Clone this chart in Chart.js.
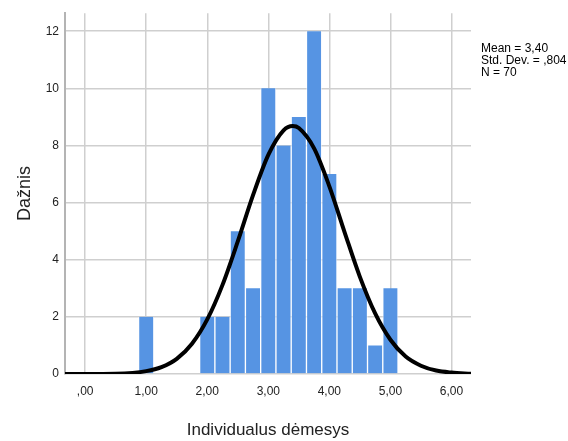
<!DOCTYPE html>
<html>
<head>
<meta charset="utf-8">
<script src="https://cdn.jsdelivr.net/npm/chart.js@4/dist/chart.umd.min.js"></script>
<style>
  html, body { margin: 0; padding: 0; background: #fff; }
  #wrap { position: relative; width: 568px; height: 441px; }
  #stats {
    position: absolute; left: 481px; top: 42px;
    font-family: "Liberation Sans", Arial, sans-serif; font-size: 12px; line-height: 12px;
    color: #000; white-space: nowrap;
  }
</style>
</head>
<body>
<div id="wrap">
  <canvas id="chart" width="568" height="441"></canvas>
  <div id="stats">Mean = 3,40<br>Std. Dev. = ,804<br>N = 70</div>
</div>
<script>
// histogram bins (bin centres, width 0.25) and counts
const binCentres = [1.0, 2.0, 2.25, 2.5, 2.75, 3.0, 3.25, 3.5, 3.75, 4.0, 4.25, 4.5, 4.75, 5.0];
const binCounts = [2, 2, 2, 5, 3, 10, 8, 9, 12, 7, 3, 3, 1, 3];

// fitted normal curve
const curveX = [-0.33, 0, 0.5, 1.0, 1.25, 1.5, 1.75, 2.0, 2.25, 2.5, 2.75, 3.0, 3.25, 3.4, 3.5, 3.75, 4.0, 4.25, 4.5, 4.75, 5.0, 5.25, 5.5, 5.75, 6.0, 6.32];
const curveY = [0, 0, 0.01, 0.1, 0.24, 0.53, 1.06, 1.91, 3.12, 4.64, 6.26, 7.67, 8.53, 8.68, 8.61, 7.9, 6.57, 4.96, 3.4, 2.12, 1.2, 0.61, 0.29, 0.12, 0.05, 0.01];

const xTicks = [0, 1, 2, 3, 4, 5, 6];
const xTickLabels = [',00', '1,00', '2,00', '3,00', '4,00', '5,00', '6,00'];
const yTicks = [0, 2, 4, 6, 8, 10, 12];

const font = 'Liberation Sans, Arial, sans-serif';

new Chart(document.getElementById('chart').getContext('2d'), {
  type: 'bar',
  data: {
    datasets: [{
      type: 'line',
      label: 'Normal',
      data: curveX.map((x, i) => ({ x: x, y: curveY[i] })),
      borderColor: '#000',
      borderWidth: 4,
      pointRadius: 0,
      cubicInterpolationMode: 'monotone',
      order: 0
    }, {
      label: 'Dažnis',
      data: binCentres.map((x, i) => ({ x: x, y: binCounts[i] })),
      backgroundColor: '#5694e3',
      borderColor: 'rgba(255,255,255,0.55)',
      borderWidth: { left: 1, right: 1, top: 0, bottom: 0 },
      barPercentage: 1,
      categoryPercentage: 1,
      order: 1
    }]
  },
  options: {
    responsive: false,
    animation: false,
    layout: { padding: { left: 0, right: 97, top: 11, bottom: 0 } },
    plugins: { legend: { display: false }, tooltip: { enabled: false } },
    scales: {
      x: {
        type: 'linear',
        min: -0.33,
        max: 6.32,
        offset: false,
        afterBuildTicks: s => { s.ticks = xTicks.map(v => ({ value: v })); },
        afterFit: s => { s.height = 67; },
        grid: { color: '#cfcfcf', lineWidth: 1.5, drawTicks: false, offset: false },
        border: { display: false },
        ticks: {
          padding: 10,
          color: '#222',
          font: { family: font, size: 12 },
          maxRotation: 0,
          callback: (v, i) => xTickLabels[i]
        },
        title: {
          display: true,
          text: 'Individualus dėmesys',
          color: '#222',
          font: { family: font, size: 17 },
          padding: { top: 0, bottom: 0 }
        }
      },
      y: {
        min: 0,
        max: 12.63,
        afterBuildTicks: s => { s.ticks = yTicks.map(v => ({ value: v })); },
        afterFit: s => { s.width = 65; },
        grid: { color: '#cfcfcf', lineWidth: 1.5, drawTicks: false },
        border: { display: true, color: '#b4b4b4', width: 2 },
        ticks: {
          padding: 6,
          color: '#222',
          font: { family: font, size: 12 }
        },
        title: {
          display: true,
          text: 'Dažnis',
          color: '#222',
          font: { family: font, size: 18 },
          padding: { top: 14, bottom: 0 }
        }
      }
    }
  }
});
</script>
</body>
</html>
